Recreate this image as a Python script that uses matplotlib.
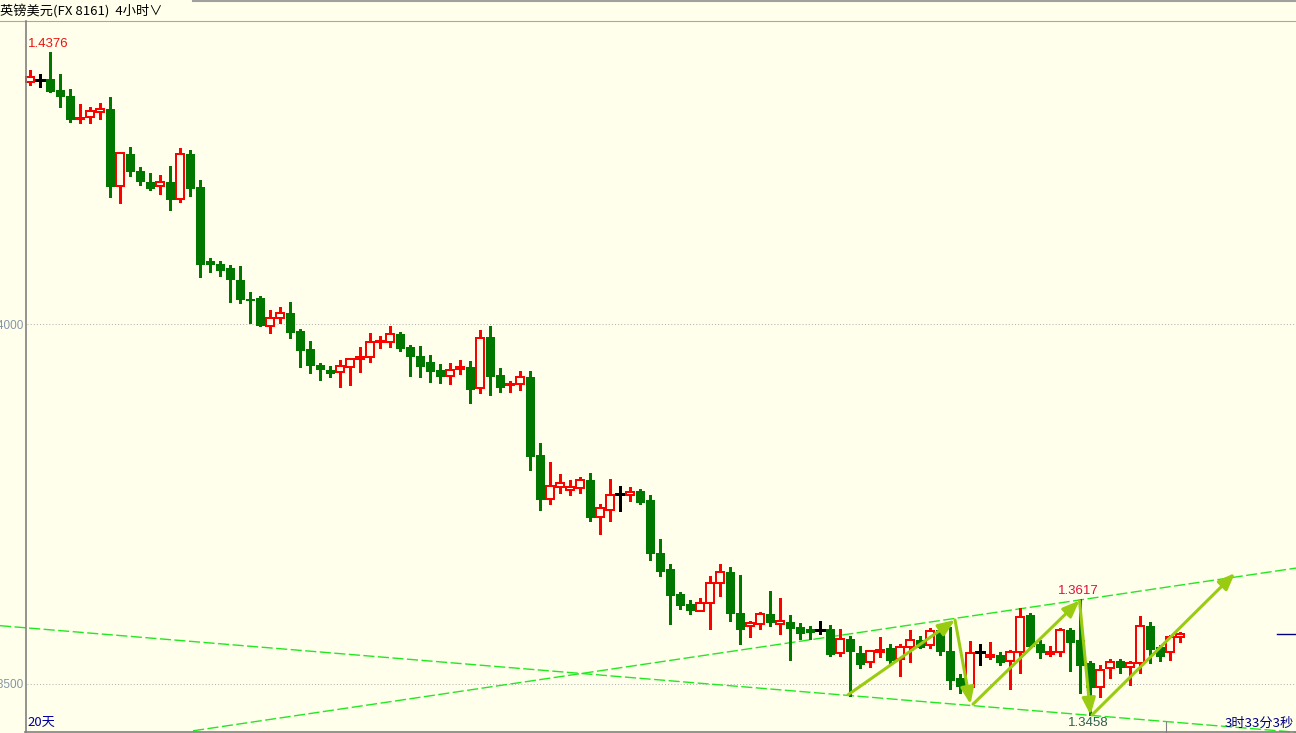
import matplotlib
matplotlib.use('Agg')
import matplotlib.pyplot as plt
from matplotlib.patches import Rectangle, FancyArrowPatch
from matplotlib.lines import Line2D

# ---------------- data (GBP/USD 4h candles) ----------------
opens = [1.4336, 1.4339, 1.4340, 1.4325, 1.4317, 1.4285, 1.4287, 1.4295, 1.4299, 1.4191,
         1.4236, 1.4212, 1.4197, 1.4191, 1.4197, 1.4174, 1.4236, 1.4190, 1.4088, 1.4083,
         1.4078, 1.4061, 1.4035, 1.4036, 1.3997, 1.4008, 1.4015, 1.3990, 1.3965, 1.3943,
         1.3936, 1.3933, 1.3940, 1.3951, 1.3954, 1.3975, 1.3975, 1.3986, 1.3968, 1.3956,
         1.3947, 1.3936, 1.3928, 1.3937, 1.3940, 1.3911, 1.3982, 1.3929, 1.3915, 1.3916,
         1.3926, 1.3818, 1.3757, 1.3774, 1.3770, 1.3772, 1.3783, 1.3732, 1.3742, 1.3764,
         1.3763, 1.3768, 1.3756, 1.3682, 1.3660, 1.3625, 1.3611, 1.3602, 1.3612, 1.3640,
         1.3655, 1.3598, 1.3581, 1.3584, 1.3597, 1.3584, 1.3586, 1.3579, 1.3576, 1.3575,
         1.3576, 1.3543, 1.3562, 1.3543, 1.3531, 1.3545, 1.3550, 1.3535, 1.3551, 1.3561,
         1.3554, 1.3575, 1.3546, 1.3508, 1.3496, 1.3544, 1.3537, 1.3540, 1.3532, 1.3545,
         1.3596, 1.3556, 1.3542, 1.3545, 1.3575, 1.3561, 1.3529, 1.3496, 1.3522, 1.3532,
         1.3524, 1.3529, 1.3581, 1.3552, 1.3544, 1.3565]
highs = [1.4351, 1.4346, 1.4376, 1.4346, 1.4325, 1.4304, 1.4300, 1.4306, 1.4314, 1.4238,
         1.4245, 1.4217, 1.4208, 1.4205, 1.4218, 1.4243, 1.4240, 1.4198, 1.4090, 1.4086,
         1.4080, 1.4079, 1.4043, 1.4037, 1.4018, 1.4022, 1.4029, 1.3991, 1.3975, 1.3945,
         1.3940, 1.3949, 1.3952, 1.3966, 1.3986, 1.3982, 1.3996, 1.3988, 1.3969, 1.3968,
         1.3956, 1.3943, 1.3944, 1.3949, 1.3947, 1.3990, 1.3996, 1.3938, 1.3919, 1.3933,
         1.3933, 1.3833, 1.3807, 1.3790, 1.3782, 1.3786, 1.3792, 1.3749, 1.3783, 1.3774,
         1.3772, 1.3769, 1.3761, 1.3700, 1.3665, 1.3626, 1.3615, 1.3618, 1.3649, 1.3665,
         1.3661, 1.3650, 1.3586, 1.3599, 1.3628, 1.3618, 1.3594, 1.3583, 1.3579, 1.3586,
         1.3581, 1.3575, 1.3565, 1.3551, 1.3546, 1.3564, 1.3554, 1.3554, 1.3574, 1.3565,
         1.3577, 1.3580, 1.3578, 1.3513, 1.3558, 1.3554, 1.3557, 1.3543, 1.3546, 1.3604,
         1.3597, 1.3560, 1.3552, 1.3576, 1.3576, 1.3617, 1.3530, 1.3525, 1.3533, 1.3533,
         1.3531, 1.3593, 1.3585, 1.3553, 1.3566, 1.3571]
lows = [1.4333, 1.4331, 1.4323, 1.4303, 1.4282, 1.4280, 1.4281, 1.4286, 1.4178, 1.4170,
        1.4207, 1.4194, 1.4187, 1.4182, 1.4160, 1.4171, 1.4179, 1.4067, 1.4073, 1.4068,
        1.4032, 1.4031, 1.4003, 1.3998, 1.3989, 1.4003, 1.3982, 1.3941, 1.3934, 1.3923,
        1.3928, 1.3914, 1.3916, 1.3935, 1.3949, 1.3968, 1.3970, 1.3964, 1.3929, 1.3928,
        1.3921, 1.3919, 1.3918, 1.3932, 1.3892, 1.3905, 1.3903, 1.3907, 1.3907, 1.3910,
        1.3799, 1.3743, 1.3752, 1.3766, 1.3764, 1.3766, 1.3728, 1.3710, 1.3728, 1.3742,
        1.3756, 1.3751, 1.3674, 1.3651, 1.3585, 1.3605, 1.3599, 1.3602, 1.3578, 1.3624,
        1.3589, 1.3557, 1.3566, 1.3578, 1.3582, 1.3571, 1.3535, 1.3564, 1.3564, 1.3571,
        1.3540, 1.3540, 1.3485, 1.3523, 1.3525, 1.3539, 1.3528, 1.3512, 1.3532, 1.3551,
        1.3552, 1.3542, 1.3494, 1.3489, 1.3495, 1.3528, 1.3536, 1.3528, 1.3495, 1.3517,
        1.3551, 1.3538, 1.3540, 1.3540, 1.3519, 1.3489, 1.3458, 1.3483, 1.3510, 1.3517,
        1.3500, 1.3517, 1.3531, 1.3534, 1.3535, 1.3560]
closes = [1.4343, 1.4339, 1.4324, 1.4317, 1.4285, 1.4286, 1.4296, 1.4299, 1.4191, 1.4237,
          1.4212, 1.4199, 1.4189, 1.4197, 1.4174, 1.4236, 1.4189, 1.4084, 1.4083, 1.4075,
          1.4062, 1.4035, 1.4034, 1.3999, 1.4008, 1.4015, 1.3989, 1.3964, 1.3943, 1.3937,
          1.3932, 1.3941, 1.3951, 1.3954, 1.3975, 1.3977, 1.3986, 1.3966, 1.3955, 1.3942,
          1.3935, 1.3928, 1.3936, 1.3940, 1.3910, 1.3980, 1.3928, 1.3913, 1.3916, 1.3926,
          1.3817, 1.3757, 1.3775, 1.3779, 1.3773, 1.3783, 1.3732, 1.3744, 1.3762, 1.3764,
          1.3766, 1.3753, 1.3682, 1.3657, 1.3624, 1.3610, 1.3603, 1.3612, 1.3640, 1.3655,
          1.3598, 1.3577, 1.3585, 1.3597, 1.3586, 1.3588, 1.3578, 1.3571, 1.3572, 1.3575,
          1.3542, 1.3563, 1.3546, 1.3528, 1.3546, 1.3547, 1.3533, 1.3551, 1.3561, 1.3552,
          1.3574, 1.3546, 1.3506, 1.3497, 1.3543, 1.3544, 1.3540, 1.3531, 1.3545, 1.3593,
          1.3553, 1.3544, 1.3545, 1.3575, 1.3559, 1.3526, 1.3496, 1.3520, 1.3531, 1.3524,
          1.3529, 1.3581, 1.3549, 1.3539, 1.3565, 1.3570]

grid_levels = [1.4000, 1.3500]
grid_labels = ["1.4000", "1.3500"]

# hand-drawn trend lines (bar index, price)
lower_line_x = [-3.0, 126.6]
lower_line_y = [1.3581, 1.3433]
upper_line_x = [16.3, 126.6]
upper_line_y = [1.3435, 1.3661]

# hand-drawn arrows: (start index, start price, end index, end price)
arrows = [
    (81.8, 1.3485, 92.5, 1.3589),
    (92.5, 1.3589, 94.05, 1.3472),
    (94.3, 1.3472, 104.95, 1.3616),
    (104.95, 1.3616, 106.05, 1.3457),
    (106.2, 1.3457, 120.5, 1.3654),
]

title_text = "英镑美元(FX 8161)  4小时∨"
period_text = "20天"
countdown_text = "3时33分3秒"

# ---------------- styling ----------------
W, H = 1296, 733
BG = '#ffffeb'
RED = '#ff0000'
GREEN = '#007800'
TREND = '#22e822'
ARROW = '#99cc11'
CJK = ['Noto Sans CJK SC', 'DejaVu Sans']

fig = plt.figure(figsize=(W / 100, H / 100), dpi=100, facecolor=BG)
ax = fig.add_axes([0, 0, 1, 1])
ax.set_xlim(-3, 126.6)
ax.set_ylim(1.445 - H / 7200, 1.445)
ax.set_axis_off()

# grid lines + labels
for lvl, lab in zip(grid_levels, grid_labels):
    ax.plot([-0.3, 126.6], [lvl, lvl], color='#b4b4b4', lw=0.75,
            linestyle=(0, (1, 2)), zorder=1)
    ax.text(-0.7, lvl, lab, ha='right', va='center_baseline', fontsize=8.5,
            family='Liberation Sans', color='#8496a8')

# trend lines
ax.plot(lower_line_x, lower_line_y, color=TREND, lw=1.0, linestyle=(0, (8, 2.5)), zorder=2)
ax.plot(upper_line_x, upper_line_y, color=TREND, lw=1.0, linestyle=(0, (8, 2.5)), zorder=2)

# candles
hw = 0.4
for i, (o, h, l, c) in enumerate(zip(opens, highs, lows, closes)):
    if c > o:
        ax.plot([i, i], [l, o], color=RED, lw=0.8, zorder=3, antialiased=False)
        ax.plot([i, i], [c, h], color=RED, lw=0.8, zorder=3, antialiased=False)
        ax.add_patch(Rectangle((i - hw, o), 2 * hw, c - o, facecolor=BG,
                               edgecolor=RED, lw=1.2, zorder=4, antialiased=False))
    elif c < o:
        ax.plot([i, i], [l, h], color=GREEN, lw=0.8, zorder=3, antialiased=False)
        ax.add_patch(Rectangle((i - hw, c), 2 * hw, o - c, facecolor=GREEN,
                               edgecolor=GREEN, lw=0.6, zorder=4, antialiased=False))
    else:
        ax.plot([i, i], [l, h], color='black', lw=0.8, zorder=3, antialiased=False)
        ax.plot([i - hw, i + hw], [o, o], color='black', lw=1.0, zorder=3, antialiased=False)

# arrows
for x0, y0, x1, y1 in arrows:
    ax.add_patch(FancyArrowPatch((x0, y0), (x1, y1),
                                 arrowstyle='-|>,head_length=10,head_width=4',
                                 mutation_scale=1, color=ARROW, lw=2.2,
                                 shrinkA=0, shrinkB=0, zorder=5))

# high / low annotations
imax = max(range(len(highs)), key=lambda k: highs[k])
imin = min(range(len(lows)), key=lambda k: lows[k])
irec = max(range(90, len(highs)), key=lambda k: highs[k])
ax.annotate(f"{highs[imax]:.4f}", (imax, highs[imax]), xytext=(-22, 3),
            textcoords='offset pixels', ha='left', va='bottom', fontsize=9.5,
            family='Liberation Sans', color='#ee1111')
ax.annotate(f"{highs[irec]:.4f}", (irec, highs[irec]), xytext=(-22, 3),
            textcoords='offset pixels', ha='left', va='bottom', fontsize=9.5,
            family='Liberation Sans', color='#e0103a')
ax.annotate(f"{lows[imin]:.4f}", (imin, lows[imin]), xytext=(-22, -3),
            textcoords='offset pixels', ha='left', va='top', fontsize=9.5,
            family='Liberation Sans', color='#2e5e4e')

# current price marker
ax.plot([124.7, 126.6], [closes[-1], closes[-1]], color='#000080', lw=1.0, zorder=5)

# frame lines (figure pixel coordinates)
def fline(x0, y0, x1, y1, color='#808080', lw=1.0):
    fig.add_artist(Line2D([x0 / W, x1 / W], [1 - y0 / H, 1 - y1 / H],
                          transform=fig.transFigure, color=color, lw=lw))

fline(0, 20.5, W, 20.5, '#a8a8a8', 0.8)
fline(193, 0.8, W, 0.8, '#a0a0a0', 1.5)
fline(25.5, 20.5, 25.5, H, '#808080', 1.2)
fline(25, 732, W, 732, '#808080', 1.2)
fline(1165.5, 722, 1165.5, 732, '#808080', 0.8)

# texts
fig.text(0, 1 - 11 / H, title_text, ha='left', va='center', fontsize=9.5,
         family=CJK, color='black')
fig.text(27 / W, 1 - 722 / H, period_text, ha='left', va='center', fontsize=9.5,
         family=CJK, color='#0000a0')
fig.text(1294 / W, 1 - 723 / H, countdown_text, ha='right', va='center', fontsize=9.5,
         family=CJK, color='#000080')

fig.savefig('out.png', dpi=100, facecolor=BG)
